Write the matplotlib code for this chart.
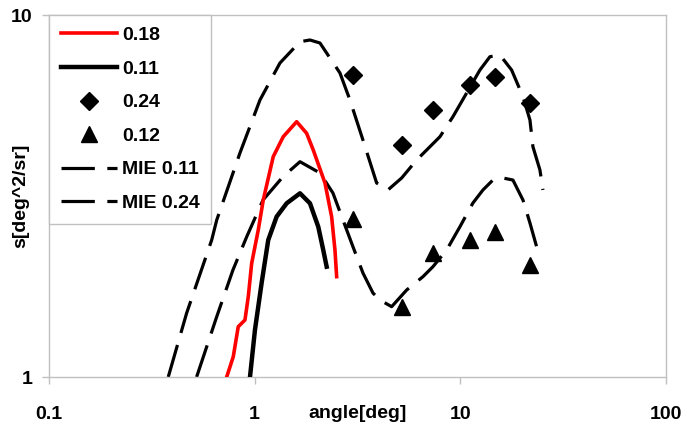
import numpy as np
import matplotlib
matplotlib.use("Agg")
import matplotlib.pyplot as plt
from matplotlib.ticker import FixedLocator, FixedFormatter, NullLocator

plt.rcParams['font.family'] = ['Liberation Sans', 'DejaVu Sans']
plt.rcParams['font.weight'] = 'bold'
plt.rcParams['lines.scale_dashes'] = False

# measured curve 0.18 (red)
x_018 = [0.731, 0.787, 0.832, 0.897, 0.931, 0.967, 1.041, 1.101, 1.231, 1.377,
         1.600, 1.789, 1.927, 2.197, 2.367, 2.457, 2.504]
y_018 = [1.00, 1.138, 1.377, 1.437, 1.667, 2.061, 2.547, 3.083, 4.061, 4.611,
         5.073, 4.713, 4.237, 3.435, 2.773, 2.243, 1.893]

# measured curve 0.11 (black)
x_011 = [0.949, 1.003, 1.081, 1.164, 1.279, 1.431, 1.661, 1.857, 2.038, 2.155, 2.239]
y_011 = [1.00, 1.348, 1.818, 2.390, 2.773, 3.019, 3.217, 3.019, 2.601, 2.243, 2.017]

# Mie curve 0.24
x_mie024 = [0.380, 0.467, 0.618, 0.654, 0.848, 1.061, 1.327, 1.661, 1.857, 2.077,
            2.598, 2.906, 3.361, 3.918, 4.446, 5.184, 6.132, 7.959, 9.205, 10.73,
            12.45, 13.93, 15.58, 17.76, 20.16, 21.80, 22.54, 24.38, 25.21]
y_mie024 = [1.00, 1.502, 2.390, 2.715, 4.157, 5.823, 7.368, 8.437, 8.53, 8.369,
            6.916, 5.823, 4.515, 3.435, 3.286, 3.546, 3.976, 4.611, 5.237, 6.088,
            7.047, 7.671, 7.754, 7.047, 5.947, 5.129, 4.327, 3.731, 3.286]

# Mie curve 0.11
x_mie011 = [0.522, 0.654, 0.784, 0.915, 1.098, 1.373, 1.661, 2.077, 2.402, 2.687,
            3.005, 3.361, 3.760, 4.066, 4.634, 5.482, 6.580, 7.358, 8.579, 9.956,
            11.51, 12.88, 14.40, 16.11, 18.02, 20.16, 21.80, 23.49, 24.38]
y_mie011 = [1.00, 1.468, 1.975, 2.441, 3.083, 3.575, 3.933, 3.661, 3.223, 2.715,
            2.291, 1.938, 1.706, 1.632, 1.564, 1.739, 1.893, 2.017, 2.243, 2.601,
            3.024, 3.286, 3.500, 3.546, 3.500, 3.083, 2.664, 2.291, 2.200]

# point measurements
angles = [3.00, 5.18, 7.38, 11.14, 14.80, 21.80]
s_024 = [6.83, 4.37, 5.47, 6.41, 6.76, 5.70]
s_012 = [2.73, 1.56, 2.20, 2.39, 2.52, 2.04]

xticks = [0.1, 1, 10, 100]
xticklabels = ['0.1', '1', '10', '100']
yticks = [1, 10]
yticklabels = ['1', '10']

fig = plt.figure(figsize=(6.85, 4.26), dpi=100)
ax = fig.add_axes([49/685, 1-377/426, 617/685, 362/426])

dash = (0, (24, 9))
ax.plot(x_018, y_018, color='#ff0000', lw=2.6, label='0.18', zorder=4)
ax.plot(x_011, y_011, color='black', lw=3.2, label='0.11', zorder=4)
ax.plot(angles, s_024, 'D', color='black', ms=9, label='0.24', zorder=5)
ax.plot(angles, s_012, '^', color='black', ms=11, label='0.12', zorder=5)
ax.plot(x_mie011, y_mie011, color='black', lw=2.3, ls=dash, label='MIE 0.11')
ax.plot(x_mie024, y_mie024, color='black', lw=2.3, ls=dash, label='MIE 0.24')

ax.set_xscale('log')
ax.set_yscale('log')
ax.set_xlim(0.1, 100)
ax.set_ylim(1, 10)
ax.xaxis.set_major_locator(FixedLocator(xticks))
ax.xaxis.set_major_formatter(FixedFormatter(xticklabels))
ax.yaxis.set_major_locator(FixedLocator(yticks))
ax.yaxis.set_major_formatter(FixedFormatter(yticklabels))
ax.xaxis.set_minor_locator(NullLocator())
ax.yaxis.set_minor_locator(NullLocator())

grey = '#c0c0c0'
for sp in ax.spines.values():
    sp.set_color(grey)
    sp.set_linewidth(1.0)
ax.tick_params(axis='both', colors=grey, labelcolor='black', labelsize=14,
               length=5, width=1.0)
ax.tick_params(axis='x', pad=16)
ax.tick_params(axis='y', pad=7)

ax.set_xlabel('angle[deg]', fontsize=14, fontweight='bold')
ax.xaxis.label.set_va('center')
ax.xaxis.set_label_coords(0.5, -0.1)
ax.set_ylabel('s[deg^2/sr]', fontsize=14, fontweight='bold')
ax.yaxis.label.set_va('center')
ax.yaxis.set_label_coords(-0.045, 0.5)

leg = ax.legend(loc='upper left', bbox_to_anchor=(0, 1), borderaxespad=0,
                fontsize=14, fancybox=False, framealpha=1, edgecolor=grey,
                handlelength=2.9, handletextpad=0.25, labelspacing=0.82,
                borderpad=0.6)
leg.get_frame().set_linewidth(1.0)

fig.savefig('out.png', dpi=100)
